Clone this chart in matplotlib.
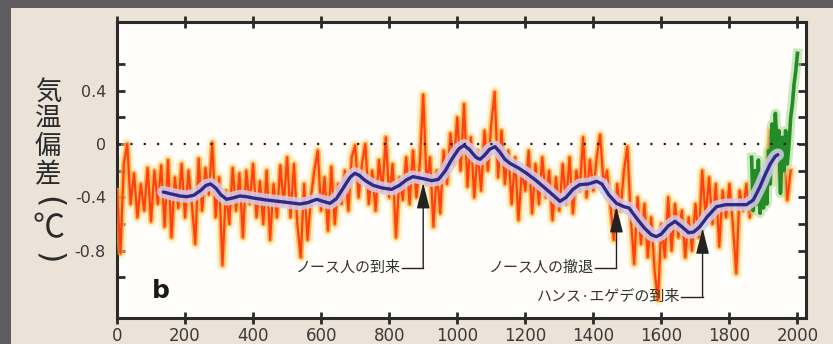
import numpy as np
import matplotlib.pyplot as plt

plt.rcParams['axes.unicode_minus'] = False
JP = ['Noto Sans CJK JP', 'DejaVu Sans']

# proxy reconstruction (red), every 10 years from year 0
proxy_years = np.arange(0, 1990, 10)
proxy_vals = [
    -0.35, -0.82, -0.15, 0.00, -0.45, -0.22, -0.55, -0.30, -0.50, -0.18,
    -0.58, -0.20, -0.45, -0.16, -0.62, -0.12, -0.70, -0.25, -0.48, -0.15,
    -0.55, -0.20, -0.45, -0.75, -0.11, -0.50, -0.18, -0.38, 0.01, -0.55,
    -0.25, -0.91, -0.35, -0.60, -0.18, -0.50, -0.22, -0.70, -0.20, -0.45,
    -0.15, -0.55, -0.28, -0.60, -0.20, -0.72, -0.30, -0.55, -0.16, -0.45,
    -0.10, -0.55, -0.15, -0.60, -0.85, -0.30, -0.72, -0.40, -0.20, -0.05,
    -0.50, -0.25, -0.65, -0.17, -0.60, -0.30, -0.45, -0.20, -0.50, -0.10,
    -0.01, -0.40, -0.15, 0.00, -0.45, -0.20, -0.50, -0.12, -0.35, 0.05,
    -0.40, -0.15, -0.70, -0.25, -0.42, -0.10, -0.45, -0.05, -0.40, -0.15,
    0.37, -0.30, -0.10, -0.62, -0.20, -0.52, -0.05, -0.30, 0.08, -0.15,
    0.20, -0.20, 0.30, -0.32, 0.05, -0.40, -0.05, -0.35, 0.10, -0.20,
    0.15, 0.39, -0.25, 0.10, -0.30, -0.05, -0.45, -0.10, -0.57, -0.20,
    -0.35, -0.05, -0.52, -0.15, -0.45, -0.10, -0.40, -0.20, -0.57, -0.25,
    -0.50, -0.15, -0.45, -0.10, -0.52, -0.20, -0.35, 0.05, -0.40, -0.12,
    -0.35, -0.10, 0.07, -0.30, -0.20, -0.45, -0.72, -0.30, -0.50, -0.20,
    -0.02, -0.55, -0.90, -0.40, -0.75, -0.45, -0.85, -0.55, -0.95, -1.17,
    -0.60, -0.85, -0.40, -0.80, -0.45, -0.70, -0.50, -0.85, -0.55, -0.80,
    -0.45, -0.70, -0.20, -0.55, -0.25, -0.60, -0.30, -0.77, -0.35, -0.55,
    -0.30, -0.60, -0.97, -0.35, -0.50, -0.30, -0.55, -0.35, -0.45, -0.25,
    -0.40, -0.20, 0.10, -0.15, 0.08, -0.30, -0.10, -0.42, -0.20,
]

# instrumental record (green)
inst_years = np.arange(1865, 2005, 5)
inst_vals = [
    -0.10, -0.50, -0.20, -0.45, -0.12, -0.52, -0.25, -0.48, -0.20, -0.45,
    -0.05, -0.30, 0.15, -0.10, 0.23, -0.05, 0.10, -0.37, 0.05, -0.20,
    0.10, -0.15, 0.00, 0.20, 0.30, 0.45, 0.55, 0.68,
]

# smoothed curve (blue)
smooth_years = [136, 160, 185, 205, 225, 245, 262, 275, 290, 305, 322, 340,
                361, 380, 400, 440, 490, 538, 560, 587, 605, 626, 645, 665,
                685, 699, 712, 730, 753, 780, 807, 830, 850, 870, 900, 925,
                945, 965, 985, 1005, 1020, 1035, 1055, 1067, 1080, 1095, 1111,
                1125, 1140, 1155, 1180, 1204, 1230, 1253, 1280, 1302, 1320,
                1340, 1360, 1385, 1410, 1425, 1445, 1468, 1490, 1505, 1525,
                1550, 1570, 1585, 1600, 1620, 1640, 1660, 1680, 1695, 1713,
                1735, 1762, 1790, 1820, 1850, 1870, 1890, 1905, 1920, 1934,
                1942]
smooth_vals = [-0.36, -0.375, -0.39, -0.395, -0.385, -0.35, -0.31, -0.30,
               -0.33, -0.38, -0.415, -0.405, -0.39, -0.395, -0.405, -0.42,
               -0.435, -0.45, -0.44, -0.415, -0.43, -0.445, -0.41, -0.33,
               -0.25, -0.22, -0.235, -0.275, -0.31, -0.33, -0.34, -0.31,
               -0.27, -0.245, -0.26, -0.275, -0.265, -0.20, -0.11, -0.035,
               -0.01, -0.04, -0.10, -0.115, -0.085, -0.04, -0.02, -0.06,
               -0.115, -0.145, -0.18, -0.22, -0.27, -0.32, -0.38, -0.43,
               -0.40, -0.34, -0.305, -0.30, -0.28, -0.30, -0.38, -0.445,
               -0.47, -0.48, -0.55, -0.63, -0.68, -0.695, -0.675, -0.615,
               -0.58, -0.62, -0.665, -0.66, -0.62, -0.545, -0.47, -0.455,
               -0.455, -0.455, -0.42, -0.32, -0.23, -0.15, -0.095, -0.08]

# historical events
event_labels = ['ノース人の到来', 'ノース人の撤退', 'ハンス·エゲデの到来']
event_years = [900, 1468, 1721]
event_tips = [-0.29, -0.47, -0.63]
event_label_y = [-0.93, -0.93, -1.15]

xticks = np.arange(0, 2001, 200)
yticks = [0.6, 0.4, 0.2, 0, -0.2, -0.4, -0.6, -0.8, -1.0]
ytick_labels = ['', '0.4', '', '0', '', '-0.4', '', '-0.8', '']

# vertical y-axis title, one glyph per row (pixel centres from top)
title_chars = ['気', '温', '偏', '差', '(', '℃', ')']
title_rot = [0, 0, 0, 0, -90, 0, -90]
title_rows = [92, 119.5, 147, 175, 202, 228, 258]

fig = plt.figure(figsize=(8.33, 3.44), dpi=100)
fig.patch.set_facecolor('#5d5c5e')
# beige panel
fig.add_artist(plt.Rectangle((11 / 833, 0), 1, 1 - 8 / 344,
                             transform=fig.transFigure,
                             facecolor='#ebe2d8', edgecolor='none', zorder=0))

ax = fig.add_axes([117 / 833, 26 / 344, 689 / 833, 296 / 344])
ax.set_facecolor('#fffefb')
ax.set_xlim(0, 2025)
ax.set_ylim(-1.305, 0.915)

# red proxy with glow
ax.plot(proxy_years, proxy_vals, color='#ffe09a', lw=8, alpha=0.45, zorder=2)
ax.plot(proxy_years, proxy_vals, color='#ffa62a', lw=4, alpha=0.75, zorder=3)
ax.plot(proxy_years, proxy_vals, color='#ff3a12', lw=1.6, alpha=0.95, zorder=4)

# green instrumental
ax.plot(inst_years, inst_vals, color='#a6d98e', lw=7, alpha=0.55, zorder=5)
ax.plot(inst_years, inst_vals, color='#238c26', lw=2.6, zorder=6)

# blue smooth with halo
ax.plot(smooth_years, smooth_vals, color='#d3cbe8', lw=9, alpha=0.85,
        solid_capstyle='round', solid_joinstyle='round', zorder=7)
ax.plot(smooth_years, smooth_vals, color='#2c2a8c', lw=2.4,
        solid_capstyle='round', solid_joinstyle='round', zorder=8)

ax.axhline(0, color='#222222', lw=1.6, linestyle=(0, (1, 5)), zorder=9)

for lab, yr, tip, ly in zip(event_labels, event_years, event_tips, event_label_y):
    ax.plot([yr - 62, yr], [ly, ly], color='#222222', lw=1.0, zorder=10)
    ax.annotate('', xy=(yr, tip), xytext=(yr, ly),
                arrowprops=dict(arrowstyle='-|>,head_length=1.0,head_width=0.25',
                                mutation_scale=16, color='#222222', lw=1.0,
                                shrinkA=0, shrinkB=0), zorder=10)
    ax.text(yr - 66, ly, lab, ha='right', va='center', fontsize=10.8,
            family=JP, color='#333333', zorder=10)

ax.text(0.051, 0.09, 'b', transform=ax.transAxes, fontsize=18,
        fontweight='heavy', color='#1a1a1a', ha='left', va='center')

for s in ax.spines.values():
    s.set_linewidth(2.2)
    s.set_color('#2a2a2a')

ax.set_xticks(xticks)
ax.set_yticks(yticks)
ax.set_yticklabels(ytick_labels)
ax.tick_params(axis='x', direction='inout', length=9, width=2, top=True,
               color='#2a2a2a', labelsize=12, labelcolor='#3a3a3a', pad=2)
ax.tick_params(axis='y', direction='in', length=6, width=2, right=True,
               color='#2a2a2a', labelsize=11.5, labelcolor='#3a3a3a', pad=8)

for ch, rot, row in zip(title_chars, title_rot, title_rows):
    if rot:
        fig.text(48 / 833, 1 - row / 344, ch, family='DejaVu Sans',
                 fontsize=23, color='#2a2a2a', ha='center', va='center',
                 rotation=rot)
    else:
        fs = 23 if ch == '℃' else 19
        fig.text(48 / 833, 1 - row / 344, ch, family=JP, fontsize=fs,
                 color='#2a2a2a', ha='center', va='center')

fig.savefig('out.png', dpi=100, facecolor=fig.get_facecolor())
